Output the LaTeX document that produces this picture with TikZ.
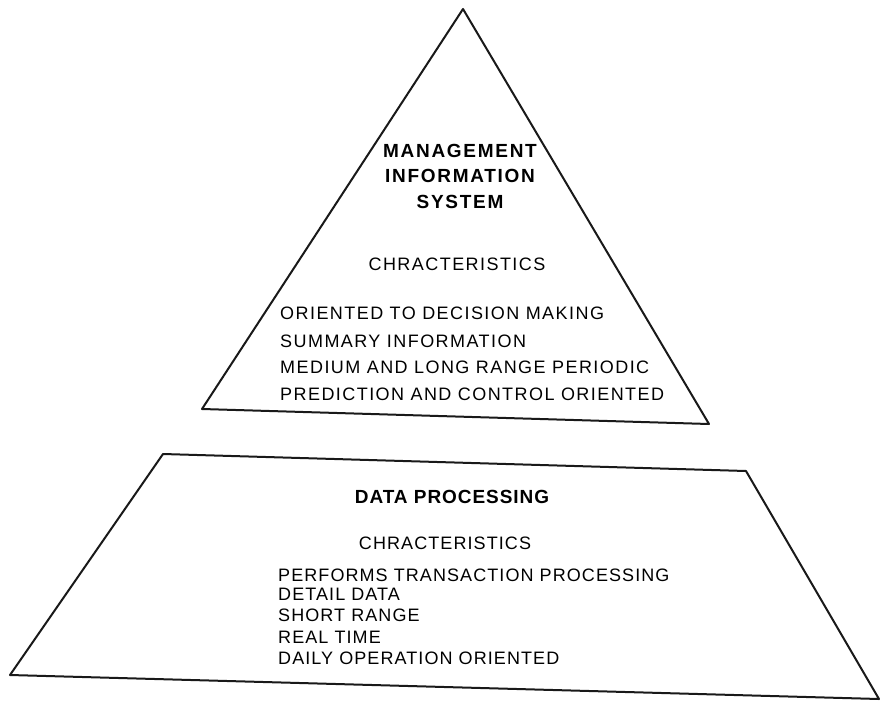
\documentclass[tikz,border=0pt]{standalone}
\usepackage{fontspec}
\newfontfamily\mistitlefont[LetterSpace=9]{Liberation Sans}
\newfontfamily\dptitlefont[LetterSpace=5]{Liberation Sans}
\newfontfamily\mislistfont[LetterSpace=8]{Liberation Sans}
\newfontfamily\dplistfont[LetterSpace=6]{Liberation Sans}
\begin{document}
\begin{tikzpicture}[x=1pt,y=-1pt,
  outline/.style={draw=black!90,line width=2pt,line join=round},
  mistitle/.style={inner sep=0pt,font=\mistitlefont\bfseries\fontsize{19}{21}\selectfont},
  dptitle/.style={inner sep=0pt,font=\dptitlefont\bfseries\fontsize{19}{21}\selectfont},
  mislist/.style={inner sep=0pt,anchor=west,font=\mislistfont\fontsize{18}{20}\selectfont},
  dplist/.style={inner sep=0pt,anchor=west,font=\dplistfont\fontsize{18}{20}\selectfont},
  mishead/.style={inner sep=0pt,font=\mislistfont\fontsize{18}{20}\selectfont},
  dphead/.style={inner sep=0pt,font=\dplistfont\fontsize{18}{20}\selectfont}]
\useasboundingbox (0,0) rectangle (880,701);
% pyramid top
\coordinate (apex) at (463,9);
\coordinate (tbl) at (202,409);
\coordinate (tbr) at (709,424);
\draw[outline] (apex) -- (tbr) -- (tbl) -- cycle;
% base trapezoid
\coordinate (ptl) at (163,454);
\coordinate (ptr) at (746,471);
\coordinate (pbr) at (879,699);
\coordinate (pbl) at (10,675);
\draw[outline] (ptl) -- (ptr) -- (pbr) -- (pbl) -- cycle;
% MIS texts
\node[mistitle] (m1) at (460,151) {MANAGEMENT};
\node[mistitle] (m2) at (460,176) {INFORMATION};
\node[mistitle] (m3) at (460,202) {SYSTEM};
\node[mishead] (mc) at (457,264) {CHRACTERISTICS};
\node[mislist] (ml1) at (280,313) {ORIENTED TO DECISION MAKING};
\node[mislist] (ml2) at (280,341) {SUMMARY INFORMATION};
\node[mislist] (ml3) at (280,367) {MEDIUM AND LONG RANGE PERIODIC};
\node[mislist] (ml4) at (280,394) {PREDICTION AND CONTROL ORIENTED};
% DP texts
\node[dptitle] (d1) at (452,497) {DATA PROCESSING};
\node[dphead] (dc) at (445,543) {CHRACTERISTICS};
\node[dplist] (dl1) at (278,575) {PERFORMS TRANSACTION PROCESSING};
\node[dplist] (dl2) at (278,594) {DETAIL DATA};
\node[dplist] (dl3) at (278,615) {SHORT RANGE};
\node[dplist] (dl4) at (278,637) {REAL TIME};
\node[dplist] (dl5) at (278,658) {DAILY OPERATION ORIENTED};
\end{tikzpicture}
\end{document}
